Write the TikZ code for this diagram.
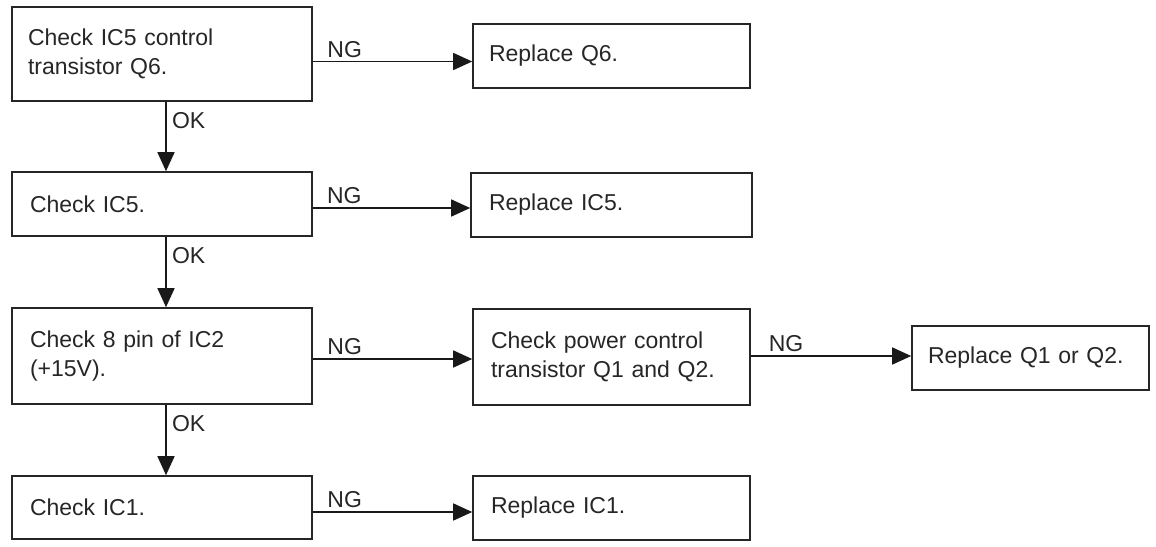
\documentclass[tikz,border=0pt]{standalone}
\usepackage{fontspec}
\setmainfont{Liberation Sans}
\usetikzlibrary{arrows.meta}
\begin{document}
\begin{tikzpicture}[x=1pt,y=-1pt,
  box/.style={draw=black!85, line width=1.6pt, rectangle, align=left, inner xsep=16pt, inner ysep=0pt,
     font=\fontsize{23}{29}\selectfont, text=black!85},
  arr/.style={draw=black!90, line width=1.5pt, -{Triangle[length=19pt,width=17pt]}},
  lbl/.style={font=\fontsize{23}{29}\selectfont, text=black!85}
]
\useasboundingbox (0,0) rectangle (1156,546);

% left column
\node[box, minimum width=300pt, text width=268pt, minimum height=94pt] (b1) at (162,54) {Check IC5 control\\transistor Q6.};
\node[box, minimum width=300pt, text width=264pt, inner xsep=18pt, minimum height=64pt] (b2) at (162,204) {Check IC5.};
\node[box, minimum width=300pt, text width=264pt, inner xsep=18pt, minimum height=96pt] (b3) at (162,356) {Check 8 pin of IC2\\(+15V).};
\node[box, minimum width=300pt, text width=264pt, inner xsep=18pt, minimum height=63pt] (b4) at (162,507.5) {Check IC1.};

% middle column
\node[box, minimum width=277pt, text width=245pt, minimum height=64pt] (r1) at (611.5,56) {Replace Q6.};
\node[box, minimum width=277pt, text width=245pt, inner xsep=18pt, minimum height=64pt] (r2) at (611.5,205) {Replace IC5.};
\node[box, minimum width=277pt, text width=241pt, inner xsep=18pt, minimum height=96pt] (c3) at (611.5,357) {Check power control\\transistor Q1 and Q2.};
\node[box, minimum width=277pt, text width=241pt, inner xsep=18pt, minimum height=64pt] (r4) at (611.5,508) {Replace IC1.};

% right column
\node[box, minimum width=237pt, text width=205pt, minimum height=64pt] (r3) at (1030.5,358) {Replace Q1 or Q2.};

% NG connectors
\draw[arr] ([yshift=-7.5pt]b1.east) -- node[lbl, above, pos=0.2] (ng1) {NG} ([yshift=-7.5pt]b1.east -| r1.west);
\draw[arr] ([yshift=-4pt]b2.east) -- node[lbl, above, pos=0.2] (ng2) {NG} ([yshift=-4pt]b2.east -| r2.west);
\draw[arr] ([yshift=-3pt]b3.east) -- node[lbl, above, pos=0.2] (ng3) {NG} ([yshift=-3pt]b3.east -| c3.west);
\draw[arr] ([yshift=-4.5pt]b4.east) -- node[lbl, above, pos=0.2] (ng4) {NG} ([yshift=-4.5pt]b4.east -| r4.west);
\draw[arr] ([yshift=1pt]c3.east) -- node[lbl, above, pos=0.22] (ng5) {NG} ([yshift=1pt]c3.east -| r3.west);

% OK connectors
\draw[arr] ([xshift=4pt]b1.south) -- node[lbl, right, pos=0.27, xshift=2pt] (ok1) {OK} ([xshift=4pt]b2.north);
\draw[arr] ([xshift=4pt]b2.south) -- node[lbl, right, pos=0.26, xshift=2pt] (ok2) {OK} ([xshift=4pt]b3.north);
\draw[arr] ([xshift=4pt]b3.south) -- node[lbl, right, pos=0.26, xshift=2pt] (ok3) {OK} ([xshift=4pt]b4.north);
\end{tikzpicture}
\end{document}
